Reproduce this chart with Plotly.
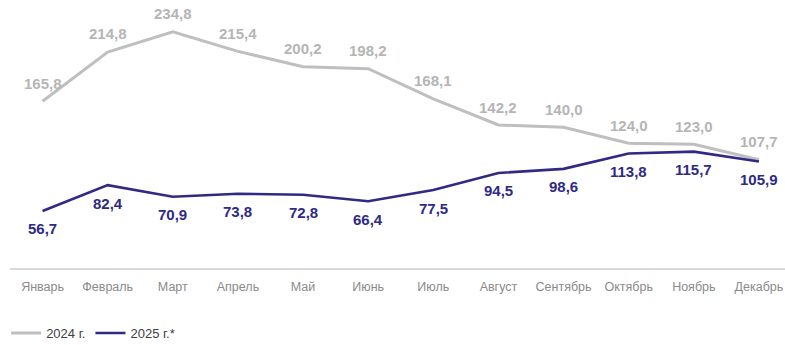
import plotly.graph_objects as go

# Monthly values, two years
months = ["Январь", "Февраль", "Март", "Апрель", "Май", "Июнь",
          "Июль", "Август", "Сентябрь", "Октябрь", "Ноябрь", "Декабрь"]
values_2024 = [165.8, 214.8, 234.8, 215.4, 200.2, 198.2,
               168.1, 142.2, 140.0, 124.0, 123.0, 107.7]
values_2025 = [56.7, 82.4, 70.9, 73.8, 72.8, 66.4,
               77.5, 94.5, 98.6, 113.8, 115.7, 105.9]

series_names = ["2024 г.", "2025 г.*"]
GRAY = "#bfbfbf"
GRAY_TEXT = "#b5b5b5"
NAVY = "#2e2a86"
FONT = "Liberation Sans, Arial, sans-serif"

fig = go.Figure()
fig.add_trace(go.Scatter(x=months, y=values_2024, name=series_names[0], mode="lines",
                         line=dict(color=GRAY, width=3)))
fig.add_trace(go.Scatter(x=months, y=values_2025, name=series_names[1], mode="lines",
                         line=dict(color=NAVY, width=2.6)))


def fmt(v):
    return f"{v:.1f}".replace(".", ",")


annotations = []
for m, v in zip(months, values_2024):
    annotations.append(dict(x=m, y=v, text=f"<b>{fmt(v)}</b>", showarrow=False,
                            yshift=18, font=dict(family=FONT, size=15, color=GRAY_TEXT)))
for m, v in zip(months, values_2025):
    annotations.append(dict(x=m, y=v, text=f"<b>{fmt(v)}</b>", showarrow=False,
                            yshift=-18, font=dict(family=FONT, size=15, color=NAVY)))

fig.update_layout(
    width=785, height=345,
    margin=dict(l=10, r=0, t=0, b=77, autoexpand=False),
    paper_bgcolor="white", plot_bgcolor="white",
    font=dict(family=FONT),
    annotations=annotations,
    showlegend=True,
    legend=dict(orientation="h", x=-0.005, xanchor="left", y=-0.2425, yanchor="middle",
                font=dict(size=13, color="#404040"), itemwidth=30,
                bgcolor="rgba(0,0,0,0)"),
    xaxis=dict(range=[-0.5, 11.4], showgrid=False, zeroline=False,
               showline=True, linecolor="#d9d9d9", linewidth=1.5,
               ticks="", tickfont=dict(size=12.5, color="#8a8a8a"),
               ticklabelstandoff=6),
    yaxis=dict(range=[0, 266.5], visible=False, showgrid=False, zeroline=False),
)

fig.write_html("out.html")
